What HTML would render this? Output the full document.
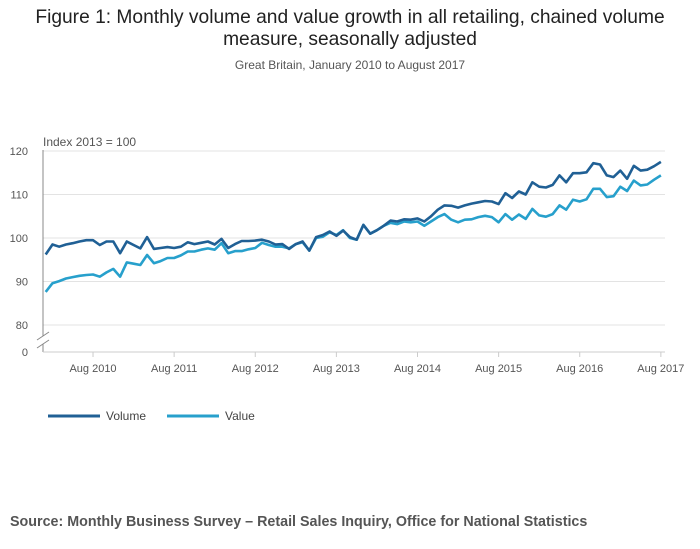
<!DOCTYPE html>
<html><head><meta charset="utf-8"><style>
body{margin:0;background:#fff;font-family:"Liberation Sans","DejaVu Sans",sans-serif;}
#wrap{position:relative;width:700px;height:549px;overflow:hidden;}
</style></head><body>
<div id="wrap">
<svg id="chart" width="700" height="549">
<text x="350" y="23" text-anchor="middle" font-size="19.2" fill="#222">Figure 1: Monthly volume and value growth in all retailing, chained volume</text>
<text x="350" y="45" text-anchor="middle" font-size="19.2" fill="#222">measure, seasonally adjusted</text>
<text x="350" y="69" text-anchor="middle" font-size="12" fill="#555">Great Britain, January 2010 to August 2017</text>
<text x="43" y="146" font-size="12" fill="#555">Index 2013 = 100</text>
<g id="grid"></g><g id="axes"></g><g id="series"></g>
<g>
<line x1="48" y1="416" x2="100" y2="416" stroke="#206095" stroke-width="3"/>
<text x="106" y="420" font-size="12" fill="#444">Volume</text>
<line x1="167" y1="416" x2="219" y2="416" stroke="#27a0cc" stroke-width="3"/>
<text x="225" y="420" font-size="12" fill="#444">Value</text>
</g>
<text x="10" y="526" font-size="14.3" font-weight="bold" fill="#555">Source: Monthly Business Survey – Retail Sales Inquiry, Office for National Statistics</text>
</svg>
</div>
<script>
const yTicks=[80,90,100,110,120];
const xTickLabels=["Aug 2010","Aug 2011","Aug 2012","Aug 2013","Aug 2014","Aug 2015","Aug 2016","Aug 2017"];
const xTickIndex=[7,19,31,43,55,67,79,91];
const volume=[96.2,98.5,98,98.5,98.8,99.2,99.5,99.5,98.4,99.2,99.2,96.5,99.2,98.4,97.6,100.2,97.5,97.7,97.9,97.7,98,99,98.6,98.9,99.2,98.5,99.8,97.7,98.6,99.3,99.3,99.4,99.6,99.2,98.5,98.6,97.5,98.6,99.2,97.1,100.2,100.7,101.5,100.5,
101.7,100.2,99.6,103,101,101.8,102.8,104,103.8,104.3,104.2,104.5,103.8,105,106.5,107.5,107.4,107,107.5,107.9,108.2,108.5,108.4,107.8,110.3,109.2,110.7,110,112.8,111.8,111.6,112.2,114.4,112.8,114.9,114.9,115.1,117.2,116.9,114.4,114,115.5,113.6,116.6,115.5,115.7,116.5,117.5];
const value=[87.6,89.6,90.1,90.7,91,91.3,91.5,91.6,91.1,92.1,92.9,91.1,94.4,94.1,93.8,96.1,94.2,94.7,95.4,95.4,96,96.9,96.9,97.3,97.6,97.3,98.8,96.5,97,97,97.4,97.7,98.9,98.4,98,98,97.6,98.6,99,97.1,100,100.3,101.3,100.7,
101.8,100,99.6,103,101,101.8,102.8,103.5,103.2,103.8,103.6,103.8,102.8,103.8,104.8,105.5,104.2,103.6,104.2,104.3,104.8,105.1,104.8,103.6,105.5,104.2,105.4,104.4,106.7,105.2,104.9,105.5,107.5,106.5,108.8,108.4,108.9,111.3,111.3,109.4,109.6,111.8,110.8,113.2,112.1,112.3,113.4,114.4];
const NS="http://www.w3.org/2000/svg";
function xS(i){return 45.7+6.76*i;}
function yS(v){return 238-(v-100)*4.35;}
function mk(tag,attrs,parent){const e=document.createElementNS(NS,tag);for(const k in attrs)e.setAttribute(k,attrs[k]);parent.appendChild(e);return e;}
const grid=document.getElementById('grid'),axes=document.getElementById('axes'),ser=document.getElementById('series');
yTicks.forEach(t=>{
 const l=mk('line',{x1:43,x2:665,y1:yS(t),y2:yS(t),stroke:'#e3e3e3','stroke-width':1},grid);
 
 
 const tx=mk('text',{x:28,y:yS(t)+4,'text-anchor':'end','font-size':11,fill:'#555'},axes);
 tx.textContent=t;
 
 
});
const z=mk('text',{x:28,y:356,'text-anchor':'end','font-size':11,fill:'#555'},axes);z.textContent='0';


const ya=mk('path',{d:'M43,150 V336 M43,344 V352',stroke:'#888',fill:'none'},axes);


const br=mk('path',{d:'M37,340 L49,332 M37,348 L49,340',stroke:'#888',fill:'none'},axes);


const xa=mk('line',{x1:43,x2:665,y1:352,y2:352,stroke:'#ccc'},axes);


xTickIndex.forEach((i,k)=>{
 const t=mk('line',{x1:xS(i),x2:xS(i),y1:352,y2:357,stroke:'#ccc'},axes);
 
 
 const tx=mk('text',{x:xS(i),y:372,'text-anchor':'middle','font-size':11,fill:'#555'},axes);
 tx.textContent=xTickLabels[k];
 
 
});
function line(data,color,name){
 const d=data.map((v,i)=>(i?'L':'M')+xS(i).toFixed(1)+','+yS(v).toFixed(1)).join(' ');
 const p=mk('path',{d:d,stroke:color,'stroke-width':2.6,fill:'none','stroke-linejoin':'round'},ser);
 
 
}
line(value,'#27a0cc','value-line');
line(volume,'#206095','volume-line');
</script>
</body></html>
